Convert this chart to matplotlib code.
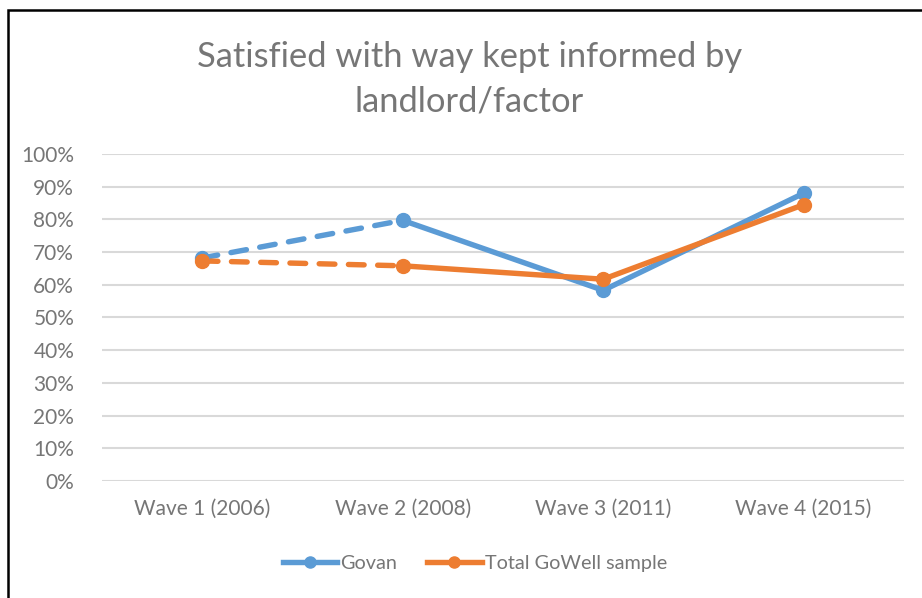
import matplotlib.pyplot as plt
import matplotlib.patches as mpatches
from matplotlib.ticker import PercentFormatter

plt.rcParams["font.family"] = ["Lato", "DejaVu Sans"]

# ---- data ----
waves = ["Wave 1 (2006)", "Wave 2 (2008)", "Wave 3 (2011)", "Wave 4 (2015)"]
govan = [68.2, 79.7, 58.3, 88.0]
total_gowell = [67.3, 65.8, 61.7, 84.5]
series_names = ["Govan", "Total GoWell sample"]

BLUE = "#5B9BD5"
ORANGE = "#ED7D31"
TEXT = "#767676"
GRID = "#D9D9D9"

fig = plt.figure(figsize=(9.22, 5.98), dpi=100)
ax = fig.add_axes([0.1106, 0.1957, 0.8698, 0.5468])

x = list(range(len(waves)))
lw, ms = 3.9, 10

for vals, color, name in [(govan, BLUE, series_names[0]), (total_gowell, ORANGE, series_names[1])]:
    # first interval dashed, rest solid
    ax.plot(x[:2], vals[:2], color=color, lw=lw, ls=(0, (2.9, 2.5)),
            dash_capstyle="round", zorder=3)
    ax.plot(x[1:], vals[1:], color=color, lw=lw, solid_joinstyle="round", zorder=3)
    ax.plot(x, vals, "o", color=color, ms=ms, zorder=4)
    # legend proxy
    ax.plot([], [], color=color, lw=lw, marker="o", ms=8, label=name)

ax.set_xlim(-0.5, 3.5)
ax.set_ylim(0, 100)
ax.set_yticks(range(0, 101, 10))
ax.yaxis.set_major_formatter(PercentFormatter(decimals=0))
ax.set_xticks(x)
ax.set_xticklabels(waves)
ax.tick_params(axis="both", length=0, labelsize=15, colors=TEXT)
ax.tick_params(axis="x", pad=13)
ax.tick_params(axis="y", pad=20)
ax.grid(axis="y", color=GRID, lw=1.5)
ax.set_axisbelow(True)
for s in ax.spines.values():
    s.set_visible(False)

fig.text(0.509, 0.868, "Satisfied with way kept informed by\nlandlord/factor",
         ha="center", va="center", fontsize=24.8, color=TEXT, linespacing=1.48)

fig.legend(loc="center", bbox_to_anchor=(0.515, 0.058), ncol=2, frameon=False,
           fontsize=14.3, labelcolor=TEXT, handlelength=2.75, handletextpad=0.15,
           columnspacing=1.5)

# outer chart border (cut off at right/bottom like the reference)
fig.add_artist(mpatches.Rectangle((8 / 922, -0.1), 1.2, 1.1 - 10 / 598,
                                  transform=fig.transFigure, fill=False,
                                  edgecolor="black", lw=1.8))

fig.savefig("out.png", dpi=100, facecolor="white")
